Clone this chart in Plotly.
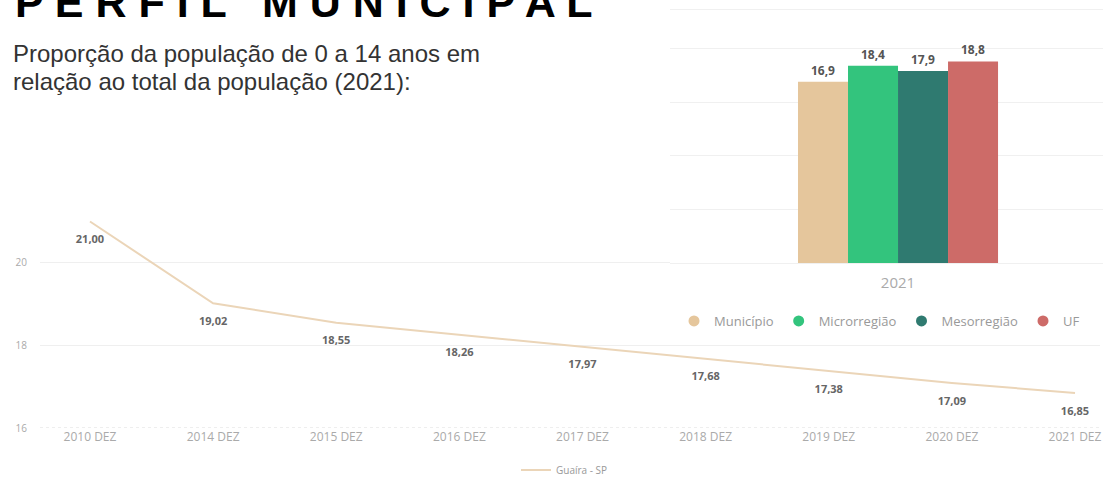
import plotly.graph_objects as go

# ---- data ----
line_categories = ["2010 DEZ", "2014 DEZ", "2015 DEZ", "2016 DEZ", "2017 DEZ",
                   "2018 DEZ", "2019 DEZ", "2020 DEZ", "2021 DEZ"]
line_values = [21.00, 19.02, 18.55, 18.26, 17.97, 17.68, 17.38, 17.09, 16.85]
line_series_name = "Guaíra - SP"

bar_category = ["2021"]
bar_series = ["Município", "Microrregião", "Mesorregião", "UF"]
bar_values = [16.9, 18.4, 17.9, 18.8]
bar_colors = ["#E5C69C", "#33C47D", "#2F7A70", "#CD6B68"]

title_text = "P E R F I L   M U N I C I P A L"
subtitle_line1 = "Proporção da população de 0 a 14 anos em"
subtitle_line2 = "relação ao total da população (2021):"

W, H = 1115, 481
def px_x(p):
    return p / W
def px_y(p):
    return (H - p) / H

fig = go.Figure()

# line chart (invisible markers only push the data labels below the line)
fig.add_trace(go.Scatter(
    x=line_categories, y=line_values, name=line_series_name,
    mode="lines+markers+text", line=dict(color="#EBD5B8", width=2),
    marker=dict(size=20, color="rgba(0,0,0,0)"),
    text=line_values, texttemplate="%{y:.2f}", textposition="bottom center",
    textfont=dict(family="Open Sans", size=11, color="#666666", weight="bold"),
    xaxis="x", yaxis="y", legend="legend2", cliponaxis=False,
))

# bar chart
for name, val, col in zip(bar_series, bar_values, bar_colors):
    fig.add_trace(go.Bar(
        x=bar_category, y=[val], name=name, marker=dict(color=col, line=dict(width=0)),
        text=[val], texttemplate="%{y:.1f}", textposition="outside",
        textfont=dict(family="Open Sans", size=12, color="#555555", weight="bold"),
        xaxis="x2", yaxis="y2", showlegend=False, cliponaxis=False,
    ))
# legend entries with circle markers
for name, col in zip(bar_series, bar_colors):
    fig.add_trace(go.Scatter(
        x=[None], y=[None], name=name, mode="markers",
        marker=dict(color=col, size=11, symbol="circle"),
        xaxis="x2", yaxis="y2", legend="legend",
    ))

# axes
fig.update_layout(
    xaxis=dict(
        domain=[px_x(40), px_x(1100)], range=[-0.406, 8.203], type="category",
        showgrid=False, zeroline=False, showline=False, automargin=False,
        ticks="",
        tickfont=dict(family="Open Sans", size=12, color="#AAAAAA"),
        anchor="y",
    ),
    yaxis=dict(
        domain=[(H - 428) / H, (H - 205) / H], range=[16, 21.4],
        tickvals=[16, 18, 20], ticktext=["16", "18", "20"], automargin=False,
        showgrid=True, gridcolor="#EFEFEF", gridwidth=1, zeroline=False,
        tickfont=dict(family="Open Sans", size=10, color="#AAAAAA"),
        ticks="outside", ticklen=10, tickcolor="rgba(0,0,0,0)", anchor="x",
    ),
    xaxis2=dict(
        domain=[px_x(670), px_x(1103)], range=[-0.5266, 0.4734], type="category",
        showgrid=False, zeroline=False, showline=True, mirror=True, linecolor="#F0F0F0",
        tickfont=dict(family="Open Sans", size=15, color="#AAAAAA"), automargin=False,
        ticks="outside", ticklen=6, tickcolor="rgba(0,0,0,0)", anchor="y2",
    ),
    yaxis2=dict(
        domain=[(H - 263) / H, (H - 10) / H], range=[0, 23.6], automargin=False,
        dtick=5, showticklabels=False, showgrid=True, gridcolor="#F0F0F0",
        zeroline=False, ticks="", anchor="x2",
    ),
    barmode="group", bargap=0.538, bargroupgap=0,
    separators=",.",
    width=W, height=H, autosize=False,
    margin=dict(l=0, r=0, t=0, b=0, autoexpand=False),
    paper_bgcolor="white", plot_bgcolor="white",
    legend=dict(
        orientation="h", x=px_x(674), y=px_y(321), xanchor="left", yanchor="middle",
        font=dict(family="Open Sans", size=13, color="#999999"),
        itemwidth=30, bgcolor="rgba(0,0,0,0)", tracegroupgap=0,
    ),
    legend2=dict(
        orientation="h", x=px_x(516), y=px_y(470), xanchor="left", yanchor="middle",
        font=dict(family="Open Sans", size=10, color="#999999"),
        itemwidth=30, bgcolor="rgba(0,0,0,0)",
    ),
)

# dotted base line of the line chart
fig.add_shape(type="line", xref="x domain", yref="y", x0=0, x1=1, y0=16, y1=16,
              line=dict(color="#DDDDDD", width=1, dash="dot"))

# title & subtitle
fig.add_annotation(text="<b>" + title_text + "</b>", xref="paper", yref="paper",
                   x=px_x(13), y=px_y(2), xanchor="left", yanchor="middle",
                   showarrow=False, font=dict(family="Liberation Sans", size=43, color="#000000"))
fig.add_annotation(text=subtitle_line1, xref="paper", yref="paper",
                   x=px_x(11), y=px_y(38), xanchor="left", yanchor="top", align="left",
                   showarrow=False, font=dict(family="Liberation Sans", size=24, color="#333333"))
fig.add_annotation(text=subtitle_line2, xref="paper", yref="paper",
                   x=px_x(11), y=px_y(66), xanchor="left", yanchor="top", align="left",
                   showarrow=False, font=dict(family="Liberation Sans", size=24, color="#333333"))

fig.write_html("out.html", config={"displayModeBar": False},
               post_script="document.body.style.margin='0';document.body.style.overflow='hidden';")
